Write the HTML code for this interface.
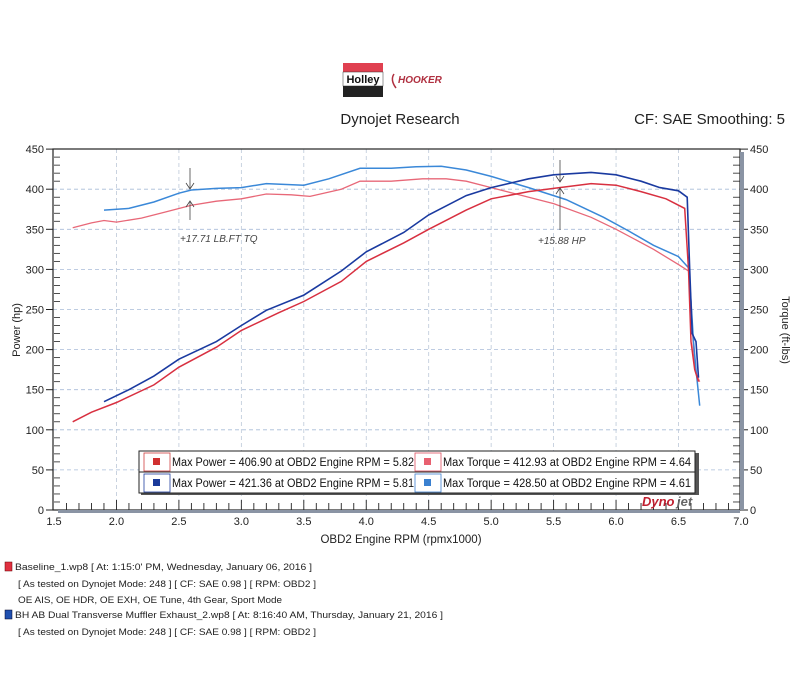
<!DOCTYPE html>
<html><head><meta charset="utf-8"><style>
body{margin:0;background:#fff;font-family:"Liberation Sans",sans-serif;}
svg text{font-family:"Liberation Sans",sans-serif;}
</style></head><body>
<svg id="s" width="800" height="678" xmlns="http://www.w3.org/2000/svg">
<rect width="800" height="678" fill="#fff"/>
<rect x="343" y="63" width="40" height="9" fill="#e04050"/>
<rect x="343" y="72" width="40" height="14" fill="#fff" stroke="#333" stroke-width="0.5"/>
<text x="363" y="83" font-size="11" font-weight="bold" text-anchor="middle" fill="#111">Holley</text>
<rect x="343" y="86" width="40" height="11" fill="#222"/>
<text x="398" y="83" font-size="10" font-style="italic" font-weight="bold" fill="#b03040">HOOKER</text>
<path d="M394 74 Q390 80 396 88" stroke="#b03040" fill="none" stroke-width="1.5"/>
<text x="400" y="124" font-size="15" text-anchor="middle" fill="#222">Dynojet Research</text>
<text x="785" y="124" font-size="15" text-anchor="end" fill="#222">CF: SAE Smoothing: 5</text>
<g id="grid"></g>
<rect x="53" y="149" width="687" height="361" fill="none" stroke="#222" stroke-width="1.2"/>
<rect x="740" y="152" width="4" height="358" fill="#8a94a4"/>
<rect x="58" y="510" width="682" height="3" fill="#8a94a4"/>
<g id="curves" fill="none"></g>
<g stroke="#444" stroke-width="0.8" fill="none">
<line x1="190" y1="168" x2="190" y2="188"/><path d="M186 183 L190 189 L194 183"/>
<line x1="190" y1="202" x2="190" y2="220"/><path d="M186 207 L190 201 L194 207"/>
<line x1="560" y1="160" x2="560" y2="182"/><path d="M556 176 L560 182 L564 176"/>
<line x1="560" y1="188" x2="560" y2="230"/><path d="M556 194 L560 188 L564 194"/>
</g>
<text x="180" y="242" font-size="10" fill="#444" font-style="italic">+17.71 LB.FT TQ</text>
<text x="538" y="244" font-size="10" fill="#444" font-style="italic">+15.88 HP</text>
<rect x="141" y="453" width="558" height="42" fill="#555"/>
<rect x="139" y="451" width="556" height="21" fill="#fff" stroke="#222" stroke-width="1"/>
<rect x="139" y="472" width="556" height="21" fill="#fff" stroke="#222" stroke-width="1"/>
<rect x="144" y="453" width="26" height="18" fill="none" stroke="#d04040" stroke-width="0.8"/>
<rect x="153" y="458" width="7" height="7" fill="#d03030"/>
<rect x="144" y="474" width="26" height="18" fill="none" stroke="#2040a0" stroke-width="0.8"/>
<rect x="153" y="479" width="7" height="7" fill="#1a3a9a"/>
<rect x="415" y="453" width="26" height="18" fill="none" stroke="#e05060" stroke-width="0.8"/>
<rect x="424" y="458" width="7" height="7" fill="#e86070"/>
<rect x="415" y="474" width="26" height="18" fill="none" stroke="#4080d0" stroke-width="0.8"/>
<rect x="424" y="479" width="7" height="7" fill="#3a80d0"/>
<text x="172" y="466" font-size="11.5" fill="#111" textLength="242" lengthAdjust="spacingAndGlyphs">Max Power = 406.90 at OBD2 Engine RPM = 5.82</text>
<text x="172" y="487" font-size="11.5" fill="#111" textLength="242" lengthAdjust="spacingAndGlyphs">Max Power = 421.36 at OBD2 Engine RPM = 5.81</text>
<text x="443" y="466" font-size="11.5" fill="#111" textLength="248" lengthAdjust="spacingAndGlyphs">Max Torque = 412.93 at OBD2 Engine RPM = 4.64</text>
<text x="443" y="487" font-size="11.5" fill="#111" textLength="248" lengthAdjust="spacingAndGlyphs">Max Torque = 428.50 at OBD2 Engine RPM = 4.61</text>
<text x="642" y="506" font-size="13" font-weight="bold" font-style="italic" fill="#c02030">Dyno</text>
<text x="677" y="506" font-size="13" font-weight="bold" font-style="italic" fill="#666">jet</text>
<text x="401" y="543" font-size="11.5" text-anchor="middle" fill="#222">OBD2 Engine RPM (rpmx1000)</text>
<text transform="translate(20 330) rotate(-90)" font-size="11" text-anchor="middle" fill="#222">Power (hp)</text>
<text transform="translate(782 330) rotate(90)" font-size="11" text-anchor="middle" fill="#222">Torque (ft-lbs)</text>
<rect x="5" y="562" width="7" height="9" fill="#e03040" stroke="#600" stroke-width="0.5"/>
<text x="15" y="570" font-size="9" fill="#222" textLength="297" lengthAdjust="spacingAndGlyphs">Baseline_1.wp8 [ At: 1:15:0' PM, Wednesday, January 06, 2016 ]</text>
<text x="18" y="587" font-size="9" fill="#222" textLength="298" lengthAdjust="spacingAndGlyphs">[ As tested on Dynojet Mode: 248 ]  [ CF: SAE 0.98 ]  [ RPM: OBD2 ]</text>
<text x="18" y="603" font-size="9" fill="#222" textLength="264" lengthAdjust="spacingAndGlyphs">OE AIS, OE HDR, OE EXH, OE Tune, 4th Gear, Sport Mode</text>
<rect x="5" y="610" width="7" height="9" fill="#2050b0" stroke="#002" stroke-width="0.5"/>
<text x="15" y="618" font-size="9" fill="#222" textLength="428" lengthAdjust="spacingAndGlyphs">BH AB Dual Transverse Muffler Exhaust_2.wp8 [ At: 8:16:40 AM, Thursday, January 21, 2016 ]</text>
<text x="18" y="635" font-size="9" fill="#222" textLength="298" lengthAdjust="spacingAndGlyphs">[ As tested on Dynojet Mode: 248 ]  [ CF: SAE 0.98 ]  [ RPM: OBD2 ]</text>
</svg>
<script>
var NS="http://www.w3.org/2000/svg";
function X(r){return 54+(r-1.5)*124.9;}
function Y(v){return 510-v*0.802;}
function el(p,t,a,txt){var e=document.createElementNS(NS,t);for(var k in a)e.setAttribute(k,a[k]);if(txt!==undefined)e.textContent=txt;p.appendChild(e);return e;}
var g=document.getElementById("grid");
for(var v=0;v<=450;v+=50){var y=Y(v);
 if(v>0&&v<450)el(g,"line",{x1:53,x2:740,y1:y,y2:y,stroke:"#a8bcd8","stroke-dasharray":"4 3","stroke-width":0.8});
 el(g,"text",{x:44,y:y+4,"font-size":11,"text-anchor":"end",fill:"#222"},v);
 el(g,"text",{x:750,y:y+4,"font-size":11,fill:"#222"},v);
 el(g,"line",{x1:46,x2:53,y1:y,y2:y,stroke:"#222"});
 el(g,"line",{x1:740,x2:748,y1:y,y2:y,stroke:"#222"});
}
for(var v=10;v<450;v+=10){if(v%50){var y=Y(v);el(g,"line",{x1:54,x2:60,y1:y,y2:y,stroke:"#222","stroke-width":0.8});el(g,"line",{x1:733,x2:740,y1:y,y2:y,stroke:"#222","stroke-width":0.8});}}
for(var r=1.5;r<=7.001;r+=0.5){var x=X(r);
 if(r>1.6&&r<6.9)el(g,"line",{x1:x,x2:x,y1:149,y2:510,stroke:"#bcc8d8","stroke-dasharray":"4 3","stroke-width":0.8});
 el(g,"text",{x:x,y:525,"font-size":11,"text-anchor":"middle",fill:"#222"},r.toFixed(1));
}
for(var r=1.6;r<6.95;r+=0.1){var x=X(r);el(g,"line",{x1:x,x2:x,y1:Math.abs((r*10)%5)<0.01||Math.abs((r*10)%5-5)<0.01?500:503,y2:510,stroke:"#222","stroke-width":0.9});}
var c=document.getElementById("curves");
function line(d,col,w){el(c,"polyline",{points:d.map(function(p){return X(p[0]).toFixed(1)+","+Y(p[1]).toFixed(1)}).join(" "),stroke:col,"stroke-width":w,fill:"none"});}
line([[1.65,352],[1.8,358],[1.9,361],[2.0,359],[2.2,364],[2.4,372],[2.6,380],[2.8,385],[3.0,388],[3.2,394],[3.4,393],[3.55,391],[3.8,400],[3.95,410],[4.2,410],[4.45,413],[4.64,413],[4.8,410],[5.0,402],[5.2,394],[5.5,382],[5.8,365],[6.0,350],[6.3,325],[6.5,306],[6.58,298],[6.6,260],[6.62,200],[6.64,170],[6.67,160]],"#e86878",1.3);
line([[1.9,374],[2.1,376],[2.3,384],[2.5,395],[2.6,399],[2.8,401],[3.0,402],[3.2,407],[3.5,405],[3.7,413],[3.95,426],[4.2,426],[4.4,428],[4.6,428.5],[4.8,424],[5.0,416],[5.3,402],[5.6,387],[5.9,365],[6.1,348],[6.3,330],[6.5,316],[6.58,302],[6.6,260],[6.62,210],[6.64,175],[6.67,130]],"#3a88d8",1.5);
line([[1.65,110],[1.8,122],[2.0,134],[2.3,156],[2.5,178],[2.8,203],[3.0,224],[3.3,246],[3.5,260],[3.8,285],[4.0,310],[4.3,333],[4.5,350],[4.8,374],[5.0,388],[5.3,397],[5.5,401],[5.8,407],[6.0,405],[6.2,397],[6.4,388],[6.55,376],[6.58,300],[6.6,210],[6.63,175],[6.66,160]],"#d83040",1.5);
line([[1.9,135],[2.1,150],[2.3,167],[2.5,188],[2.8,210],[3.0,230],[3.2,249],[3.5,268],[3.8,298],[4.0,322],[4.3,346],[4.5,368],[4.8,392],[5.0,402],[5.3,413],[5.5,418],[5.8,421],[6.0,418],[6.2,410],[6.35,402],[6.5,398],[6.57,390],[6.59,300],[6.61,220],[6.64,210],[6.66,165]],"#1a3aa0",1.6);
</script>
</body></html>
